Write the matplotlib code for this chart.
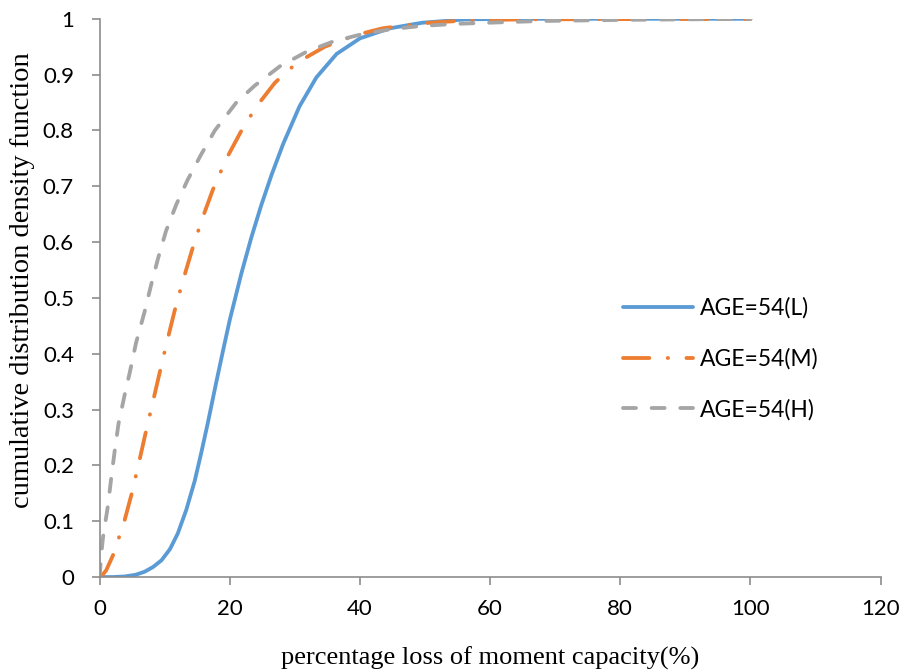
import matplotlib
matplotlib.use("Agg")
import matplotlib.pyplot as plt
from matplotlib.ticker import FuncFormatter

# -----------------------------------
# CDF curves (percentage loss vs probability)
# -----------------------------------
x_low = [0, 2, 3.8, 5.5, 6.9, 8.2, 9.5, 10.8, 12.0, 13.3, 14.6, 15.6, 16.6,
         17.9, 19.0, 20.0, 21.8, 23.3, 24.8, 26.4, 28.2, 30.7, 33.3, 36.4,
         40.0, 44.6, 49.6, 56.3, 65, 80, 100]
y_low = [0, 0, 0.001, 0.004, 0.0095, 0.018, 0.030, 0.05, 0.078, 0.12, 0.172,
         0.222, 0.275, 0.348, 0.408, 0.461, 0.545, 0.608, 0.665, 0.72, 0.776,
         0.843, 0.895, 0.937, 0.965, 0.983, 0.993, 0.999, 1, 1, 1]

x_mid = [0, 0.3, 1, 2.05, 2.97, 3.84, 4.87, 5.9, 7.0, 8.2, 9.0, 9.7, 10.4,
         11.5, 12.2, 12.9, 14.2, 15.0, 15.8, 17.4, 19.5, 21.8, 24.1, 26.9,
         28.8, 30.7, 34.6, 39.4, 43.5, 49.7, 56.1, 65, 100]
y_mid = [0, 0.002, 0.012, 0.039, 0.071, 0.102, 0.147, 0.198, 0.255, 0.315,
         0.355, 0.39, 0.424, 0.476, 0.506, 0.535, 0.586, 0.615, 0.643, 0.694,
         0.75, 0.80, 0.843, 0.885, 0.906, 0.924, 0.950, 0.971, 0.983, 0.992,
         0.997, 0.999, 1]

x_high = [0, 0.2, 0.5, 0.9, 1.3, 1.8, 2.3, 2.9, 4.0, 4.6, 5.6, 6.9, 7.9, 9.0,
          10.2, 11.8, 13.5, 15.5, 17.7, 21.0, 23.8, 27.7, 31.8, 35.8, 40.5,
          44.6, 49.2, 54.8, 67.6, 80, 100]
y_high = [0, 0.035, 0.07, 0.1, 0.13, 0.18, 0.225, 0.275, 0.335, 0.365, 0.42,
          0.475, 0.523, 0.572, 0.62, 0.668, 0.711, 0.755, 0.80, 0.85, 0.88,
          0.915, 0.941, 0.959, 0.973, 0.981, 0.987, 0.991, 0.996, 0.998, 1]

labels = ["AGE=54(L)", "AGE=54(M)", "AGE=54(H)"]
x_ticks = [0, 20, 40, 60, 80, 100, 120]
y_ticks = [0, 0.1, 0.2, 0.3, 0.4, 0.5, 0.6, 0.7, 0.8, 0.9, 1]

# -----------------------------------
# Figure
# -----------------------------------
fig = plt.figure(figsize=(9.06, 6.71), dpi=100)
ax = fig.add_axes([0.110, 0.140, 0.862, 0.832])

lw = 2.75
ax.plot(x_low, y_low, color="#5B9BD5", lw=lw, label=labels[0],
        solid_capstyle="round", solid_joinstyle="round")
ax.plot(x_mid, y_mid, color="#ED7D31", lw=lw, label=labels[1],
        dashes=(6.9, 4.8, 0.1, 4.8), dash_capstyle="round")
ax.plot(x_high, y_high, color="#A5A5A5", lw=lw, label=labels[2],
        dashes=(3.4, 4.1), dash_capstyle="round")

ax.set_xlim(0, 120)
ax.set_ylim(0, 1)
ax.set_xticks(x_ticks)
ax.set_yticks(y_ticks)
ax.yaxis.set_major_formatter(FuncFormatter(lambda v, p: f"{v:g}"))

for side in ["top", "right"]:
    ax.spines[side].set_visible(False)
for side in ["left", "bottom"]:
    ax.spines[side].set_color("#8C8C8C")
    ax.spines[side].set_linewidth(1.2)
    ax.spines[side].set_clip_on(False)

ax.tick_params(direction="out", length=5.5, width=1.2, color="#8C8C8C",
               labelsize=16)
ax.tick_params(axis="y", pad=13)
ax.tick_params(axis="x", pad=10)
for lab in ax.get_xticklabels() + ax.get_yticklabels():
    lab.set_family("Lato")

ax.set_xlabel("percentage loss of moment capacity(%)", family="Liberation Serif",
              fontsize=19, labelpad=20)
ax.set_ylabel("cumulative distribution density function",
              family="Liberation Serif", fontsize=20.5)
ax.yaxis.set_label_coords(-0.083, 0.532)

leg = ax.legend(loc="center left", bbox_to_anchor=(0.6697, 0.391),
                frameon=False, borderpad=0, borderaxespad=0,
                prop={"family": "Lato", "size": 16.5}, handlelength=3.06,
                labelspacing=1.27, handletextpad=0.3)

fig.savefig("out.png", dpi=100)
